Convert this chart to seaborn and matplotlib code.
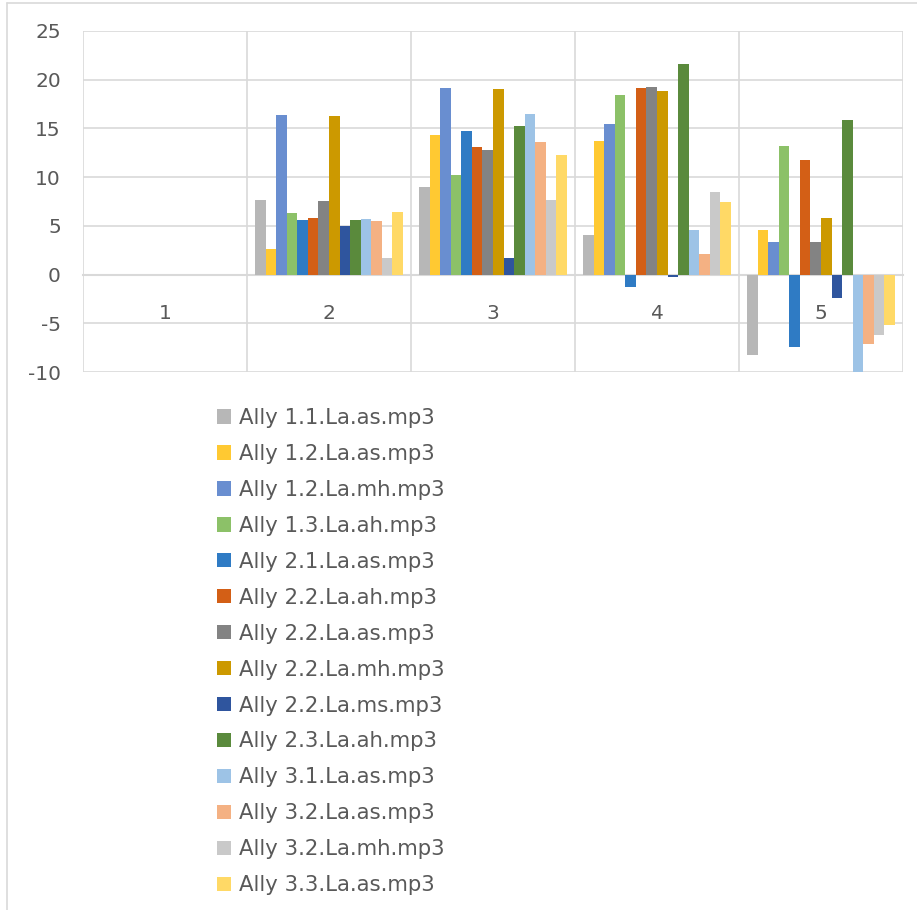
import matplotlib
matplotlib.use("Agg")
import matplotlib.pyplot as plt
from matplotlib.patches import Patch
from matplotlib.lines import Line2D
import seaborn as sns
import pandas as pd

# categories on the x axis
categories = ["1", "2", "3", "4", "5"]

# series names (legend order)
series = [
    "Ally 1.1.La.as.mp3", "Ally 1.2.La.as.mp3", "Ally 1.2.La.mh.mp3",
    "Ally 1.3.La.ah.mp3", "Ally 2.1.La.as.mp3", "Ally 2.2.La.ah.mp3",
    "Ally 2.2.La.as.mp3", "Ally 2.2.La.mh.mp3", "Ally 2.2.La.ms.mp3",
    "Ally 2.3.La.ah.mp3", "Ally 3.1.La.as.mp3", "Ally 3.2.La.as.mp3",
    "Ally 3.2.La.mh.mp3", "Ally 3.3.La.as.mp3",
]

# values per series, one per category
ally_11_as = [0, 7.7, 9.0, 4.1, -8.25]
ally_12_as = [0, 2.65, 14.3, 13.7, 4.6]
ally_12_mh = [0, 16.4, 19.15, 15.45, 3.3]
ally_13_ah = [0, 6.3, 10.2, 18.4, 13.2]
ally_21_as = [0, 5.6, 14.7, -1.25, -7.45]
ally_22_ah = [0, 5.8, 13.05, 19.1, 11.8]
ally_22_as = [0, 7.55, 12.75, 19.3, 3.3]
ally_22_mh = [0, 16.25, 19.0, 18.85, 5.85]
ally_22_ms = [0, 4.95, 1.75, -0.2, -2.4]
ally_23_ah = [0, 5.6, 15.25, 21.6, 15.85]
ally_31_as = [0, 5.75, 16.5, 4.6, -10.2]
ally_32_as = [0, 5.5, 13.65, 2.1, -7.1]
ally_32_mh = [0, 1.65, 7.65, 8.5, -6.2]
ally_33_as = [0, 6.4, 12.3, 7.4, -5.15]

values = [ally_11_as, ally_12_as, ally_12_mh, ally_13_ah, ally_21_as,
          ally_22_ah, ally_22_as, ally_22_mh, ally_22_ms, ally_23_ah,
          ally_31_as, ally_32_as, ally_32_mh, ally_33_as]

colors = ["#B7B7B7", "#FFC932", "#698ED0", "#8CC168", "#2F7BC4", "#D35F16",
          "#838383", "#CC9900", "#2F559E", "#5A8A3C", "#9DC3E6", "#F4B183",
          "#C9C9C9", "#FFD966"]

rows = []
for name, vals in zip(series, values):
    for cat, v in zip(categories, vals):
        rows.append({"cat": cat, "series": name, "value": v})
df = pd.DataFrame(rows)

sns.set_style("white")
plt.rcParams["font.family"] = ["DejaVu Sans"]
plt.rcParams["axes.unicode_minus"] = False
text_color = "#595959"
grid_color = "#D9D9D9"

fig = plt.figure(figsize=(9.17, 9.10), dpi=100)
ax = fig.add_axes([83 / 917, 1 - 372 / 910, 820 / 917, 341 / 910])

sns.barplot(data=df, x="cat", y="value", hue="series", hue_order=series,
            order=categories, palette=colors, width=0.9, gap=0,
            linewidth=0, saturation=1, legend=False, ax=ax, zorder=3)

ax.set_ylim(-10, 25)
ax.set_xlim(-0.5, 4.5)
ax.set_yticks(range(-10, 26, 5))
ax.set_xlabel("")
ax.set_ylabel("")

# horizontal gridlines + vertical category separators
ax.grid(axis="y", color=grid_color, linewidth=1.2, zorder=0)
ax.set_xticks([i - 0.5 for i in range(len(categories) + 1)], minor=True)
ax.grid(axis="x", which="minor", color=grid_color, linewidth=1.2, zorder=0)
for s in ["top", "right", "left"]:
    ax.spines[s].set_visible(False)
ax.spines["bottom"].set_position(("data", 0))
ax.spines["bottom"].set_color(grid_color)
ax.spines["bottom"].set_linewidth(1.5)
ax.spines["bottom"].set_zorder(1)
ax.tick_params(axis="x", which="both", length=0, pad=21, labelsize=14.5,
               labelcolor=text_color)
ax.tick_params(axis="y", length=0, pad=16, labelsize=14.5,
               labelcolor=text_color)

handles = [Patch(facecolor=c, edgecolor="none") for c in colors]
fig.legend(handles, series, loc="upper left",
           bbox_to_anchor=(217 / 917, 1 - 408 / 910), frameon=False,
           fontsize=15.3, labelcolor=text_color, handlelength=0.66,
           handleheight=0.66, handletextpad=0.38, labelspacing=0.75,
           borderpad=0, borderaxespad=0)

# chart area border (left and top visible)
fig.add_artist(Line2D([7 / 917, 7 / 917], [0, 1 - 3 / 910],
                      transform=fig.transFigure, color=grid_color, lw=1.2))
fig.add_artist(Line2D([7 / 917, 1], [1 - 3 / 910, 1 - 3 / 910],
                      transform=fig.transFigure, color=grid_color, lw=1.2))

fig.savefig("out.png", dpi=100, facecolor="white")
